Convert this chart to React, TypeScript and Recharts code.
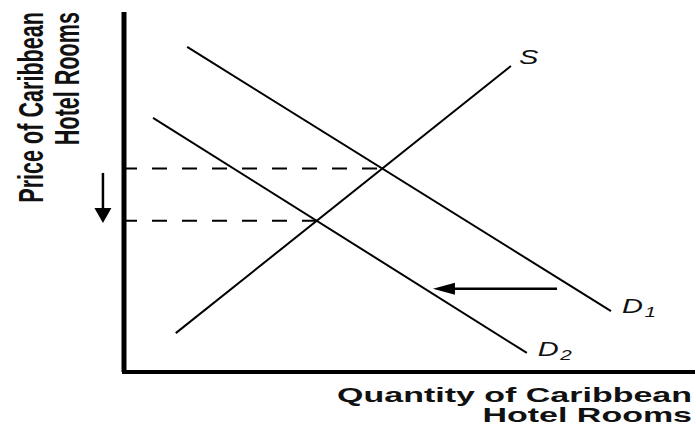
import { LineChart, Line, XAxis, YAxis, ReferenceLine, Label } from "recharts";

// curves (quantity, price on a 0-100 scale)
const supplyQ = [9.1, 68.0];
const supplyP = [10.8, 85.0];
const demand1Q = [11.1, 85.6];
const demand1P = [90.3, 16.9];
const demand2Q = [5.1, 70.8];
const demand2P = [70.6, 5.3];

// equilibria: old (D1 x S) and new (D2 x S)
const eqQ = [45.4, 33.9];
const eqP = [56.5, 42.0];

// shift arrow (D1 -> D2) and price-fall arrow
const shiftQ = [76.1, 54.3];
const shiftP = 23.1;
const priceArrowQ = -3.7;
const priceArrowP = [55.3, 41.4];

const curveNames = ["S", "D", "D"];
const curveSubs = ["", "1", "2"];

const toPoints = (qs: number[], ps: number[]) => qs.map((q, i) => ({ q, p: ps[i] }));

const makeTag = (name: string, sub: string, dx: number, dy: number, last: number) => (props: any) => {
  if (props.index !== last) return null;
  return (
    <g transform={`translate(${props.x + dx},${props.y + dy}) scale(1.38,1)`}>
      <text x={0} y={0} fontFamily="Liberation Sans, Arial, sans-serif" fontStyle="italic" fontSize={21} fill="#111">
        <tspan>{name}</tspan>
        {sub && (
          <tspan fontSize={15} dx={1} dy={4}>
            {sub}
          </tspan>
        )}
      </text>
    </g>
  );
};

const arrowShape = (headLen: number, halfW: number, width: number) => (props: any) => {
  const { x1, y1, x2, y2 } = props;
  const len = Math.hypot(x2 - x1, y2 - y1) || 1;
  const ux = (x2 - x1) / len;
  const uy = (y2 - y1) / len;
  const bx = x2 - ux * headLen;
  const by = y2 - uy * headLen;
  return (
    <g>
      <line x1={x1} y1={y1} x2={bx + ux} y2={by + uy} stroke="#000" strokeWidth={width} />
      <polygon
        points={`${x2},${y2} ${bx - uy * halfW},${by + ux * halfW} ${bx + uy * halfW},${by - ux * halfW}`}
        fill="#000"
      />
    </g>
  );
};

const XTitle = (props: any) => {
  const vb = props.viewBox;
  const right = vb.x + vb.width - 1;
  const lines = ["Quantity of Caribbean", "Hotel Rooms"];
  return (
    <g>
      {lines.map((t, i) => (
        <g key={t} transform={`translate(${right},${vb.y + 30 + i * 20}) scale(1.7,1)`}>
          <text textAnchor="end" fontFamily="Liberation Sans, Arial, sans-serif" fontWeight="bold" fontSize={20} fill="#111">
            {t}
          </text>
        </g>
      ))}
    </g>
  );
};

const YTitle = (props: any) => {
  const vb = props.viewBox;
  const lines = ["Price of Caribbean", "Hotel Rooms"];
  return (
    <g>
      {lines.map((t, i) => (
        <g key={t} transform={`translate(${vb.x + 43 + i * 36},${vb.y}) rotate(-90) scale(0.6,1)`}>
          <text textAnchor="end" fontFamily="Liberation Sans, Arial, sans-serif" fontWeight="bold" fontSize={36} fill="#111">
            {t}
          </text>
        </g>
      ))}
    </g>
  );
};

export default function App() {
  const curves = [
    toPoints(supplyQ, supplyP),
    toPoints(demand1Q, demand1P),
    toPoints(demand2Q, demand2P),
  ];
  const offsets = [
    [8, -2],
    [11, 2],
    [11, 3],
  ];
  return (
    <div style={{ position: "absolute", left: 0, top: 0, background: "#fff" }}>
      <LineChart width={696} height={432} margin={{ top: 12, right: 3, left: 0, bottom: 0 }}>
        <XAxis
          type="number"
          dataKey="q"
          domain={[0, 100]}
          tick={false}
          tickLine={false}
          height={60}
          axisLine={{ stroke: "#000", strokeWidth: 4, strokeLinecap: "square" }}
        >
          <Label content={XTitle} />
        </XAxis>
        <YAxis
          type="number"
          dataKey="p"
          domain={[0, 100]}
          tick={false}
          tickLine={false}
          width={124}
          axisLine={{ stroke: "#000", strokeWidth: 5 }}
        >
          <Label content={YTitle} />
        </YAxis>
        {eqQ.map((q, i) => (
          <ReferenceLine
            key={`eq${i}`}
            segment={[
              { x: 0, y: eqP[i] },
              { x: q, y: eqP[i] },
            ]}
            stroke="#000"
            strokeWidth={2}
            strokeDasharray="15 15"
            strokeDashoffset={2}
          />
        ))}
        {curves.map((pts, i) => (
          <Line
            key={i}
            data={pts}
            dataKey="p"
            type="linear"
            stroke="#000"
            strokeWidth={2}
            dot={false}
            activeDot={false}
            isAnimationActive={false}
            label={makeTag(curveNames[i], curveSubs[i], offsets[i][0], offsets[i][1], pts.length - 1)}
          />
        ))}
        <ReferenceLine
          segment={[
            { x: shiftQ[0], y: shiftP },
            { x: shiftQ[1], y: shiftP },
          ]}
          shape={arrowShape(22, 6, 2.5)}
        />
        <ReferenceLine
          ifOverflow="visible"
          segment={[
            { x: priceArrowQ, y: priceArrowP[0] },
            { x: priceArrowQ, y: priceArrowP[1] },
          ]}
          shape={arrowShape(15, 8.5, 2.5)}
        />
      </LineChart>
    </div>
  );
}
